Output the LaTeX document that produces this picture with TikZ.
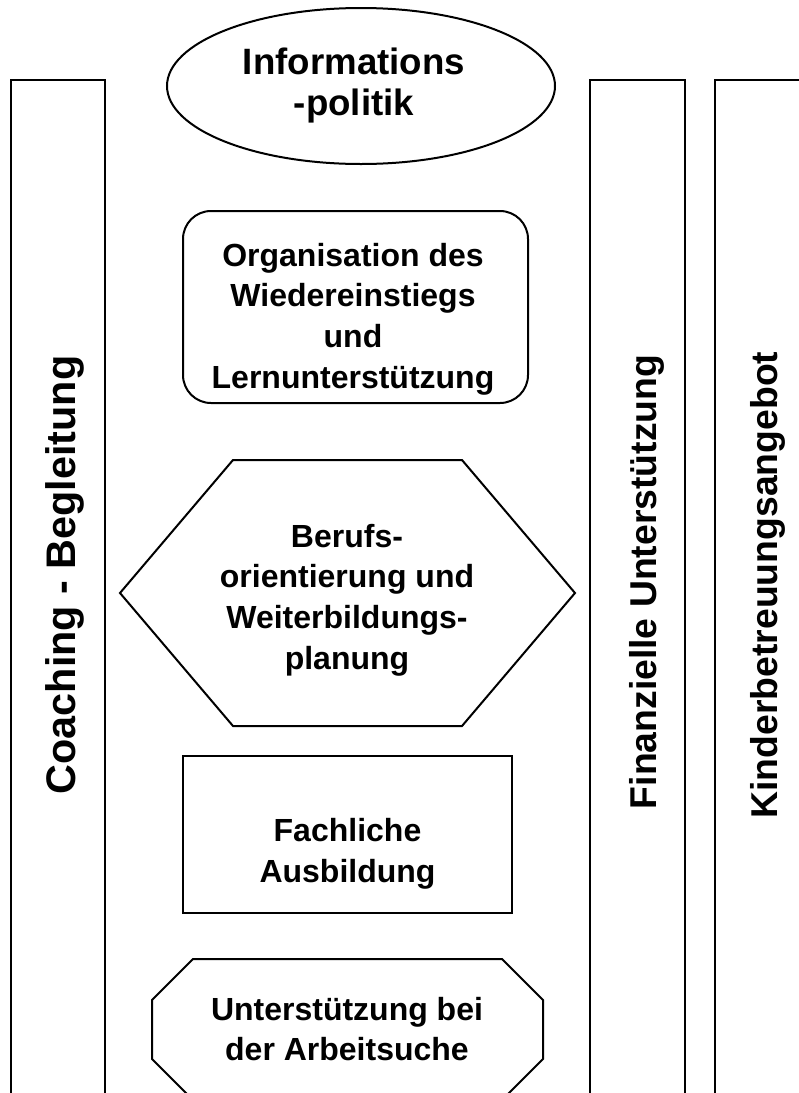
\documentclass[tikz,border=0pt]{standalone}
\usepackage{fontspec}
\setmainfont{Liberation Sans}
\tikzset{
  shapeline/.style={draw=black, line width=1.5pt, line join=miter},
  bodytext/.style={font=\bfseries\fontsize{24}{30.4}\selectfont, align=center, inner sep=0pt},
  ovaltext/.style={font=\bfseries\fontsize{27.5}{30.75}\selectfont, align=center, inner sep=0pt},
  coltext/.style={font=\bfseries\fontsize{28}{34}\selectfont, rotate=90, inner sep=0pt},
}
\begin{document}
\begin{tikzpicture}[x=0.75pt,y=-0.75pt]
\useasboundingbox (0,0) rectangle (799,1093);
\fill[white] (0,0) rectangle (799,1093);
\clip (0,0) rectangle (799,1093);
% columns
\draw[shapeline] (11,80) rectangle (105,1093.5);
\draw[shapeline] (590,80) rectangle (685,1093.5);
\draw[shapeline] (715,80) rectangle (840,1093.5);
% ellipse
\draw[shapeline] (361,86) ellipse [x radius=194, y radius=78];
% rounded box
\draw[shapeline, rounded corners=21pt] (183,211) rectangle (528,403);
% hexagon
\draw[shapeline] (233,460) -- (462,460) -- (575,593) -- (462,726) -- (233,726) -- (120,593) -- cycle;
% rectangle
\draw[shapeline] (183,756) rectangle (512,913);
% octagon
\draw[shapeline] (193,959) -- (502,959) -- (543,1000) -- (543,1059) -- (502,1100) -- (193,1100) -- (152,1059) -- (152,1000) -- cycle;
% texts
\node[ovaltext] (info) at (354,86) {Informations\\-politik};
\node[bodytext] (orga) at (353,319) {Organisation des\\Wiedereinstiegs\\und\\Lernunterstützung};
\node[bodytext] (beruf) at (347,600) {Berufs-\\orientierung und\\Weiterbildungs-\\planung};
\node[bodytext] (fach) at (347.5,854) {Fachliche\\Ausbildung};
\node[bodytext] (arbeit) at (347,1029) {Unterstützung bei\\der Arbeitsuche};
\node[coltext, font=\bfseries\fontsize{31}{36}\selectfont] (coach) at (65,575) {Coaching - Begleitung};
\node[coltext] (fin) at (647,582) {Finanzielle Unterstützung};
\node[coltext] (kind) at (768,585) {Kinderbetreuungsangebot};
\end{tikzpicture}
\end{document}
